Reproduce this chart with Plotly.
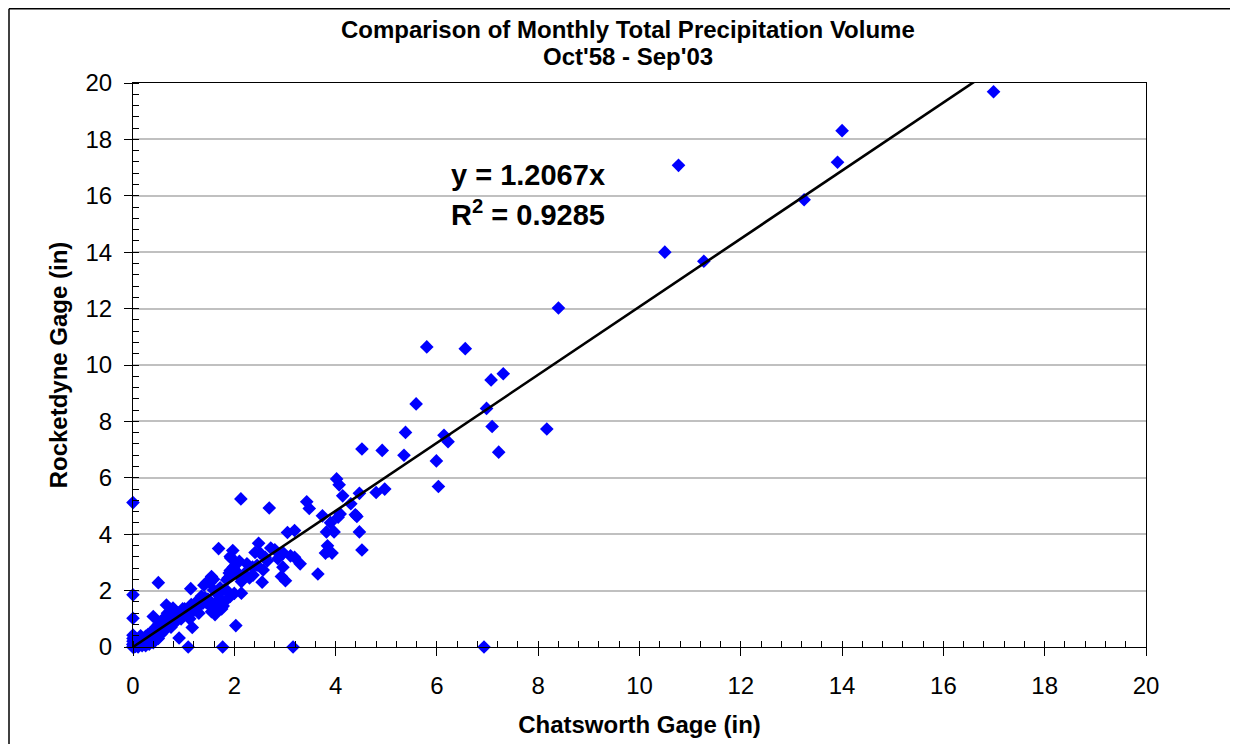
import plotly.graph_objects as go

# Monthly totals (in): Chatsworth gage (x) vs Rocketdyne gage (y)
chatsworth = [
    16.99, 14.0, 13.91, 10.77, 13.25, 10.50, 11.27, 8.40, 5.80, 6.56,
    7.31, 7.07, 5.59, 6.98, 7.09, 8.17, 5.38, 6.14, 6.22, 4.52,
    4.92, 5.35, 7.22, 5.99, 4.02, 4.07, 6.03, 4.47, 4.80, 4.97,
    4.14, 3.43, 3.48, 4.30, 3.74, 4.09, 4.05, 4.39, 4.42, 3.90,
    3.82, 3.97, 4.47, 3.84, 3.80, 3.93, 4.52, 2.13, 2.69, 6.93,
    3.16, 1.77, 1.09, 0.0, 0.0, 0.0, 0.50, 2.03, 0.91, 1.17,
    1.14, 3.65, 3.05, 3.19, 1.69, 2.48, 1.97, 2.41, 2.72, 2.51,
    3.85, 2.97, 3.11, 3.19, 1.92, 2.10, 2.86, 2.61, 2.96, 2.57,
    2.36, 1.98, 1.92, 2.05, 2.37, 2.93, 1.88, 3.01, 2.17, 1.59,
    1.52, 1.40, 1.82, 2.14, 1.92, 1.45, 1.93, 1.99, 1.90, 2.06,
    1.85, 2.14, 1.55, 1.45, 1.59, 1.55, 1.60, 1.70, 1.80, 1.85,
    1.75, 2.00, 1.65, 1.50, 1.48, 1.38, 1.35, 1.30, 1.30, 1.25,
    1.20, 1.15, 1.12, 1.10, 1.05, 1.00, 0.98, 0.95, 0.90, 0.88,
    0.85, 0.82, 0.80, 0.78, 0.75, 0.72, 0.70, 0.68, 0.65, 0.62,
    0.60, 0.58, 0.55, 0.55, 0.52, 0.50, 0.48, 0.45, 0.42, 0.40,
    0.38, 0.35, 0.32, 0.30, 0.28, 0.25, 0.22, 0.20, 0.18, 0.15,
    0.12, 0.10, 0.08, 0.05, 0.03, 0.0, 0.0, 0.0, 0.0, 0.0,
    0.02, 0.05, 0.10, 0.15, 0.25, 0.35, 0.40, 0.50, 0.60, 0.65,
    0.40, 0.79, 0.66, 1.62, 1.68, 1.72, 1.78, 1.42, 1.36, 1.28,
    1.22, 1.08, 1.02, 0.93, 0.86, 0.76, 0.70, 0.63, 0.57, 0.47,
    0.44, 0.36, 0.27, 0.18, 0.12, 0.07, 0.04, 0.0, 0.0, 0.2,
    2.25, 2.30, 2.45, 2.65, 2.80, 3.30, 2.55, 2.20,
]
rocketdyne = [
    19.69, 18.31, 17.19, 17.08, 15.86, 14.0, 13.68, 12.02, 10.64, 10.58,
    9.69, 9.47, 8.62, 8.46, 7.82, 7.73, 7.61, 7.51, 7.28, 7.02,
    6.97, 6.80, 6.91, 6.60, 5.96, 5.75, 5.69, 5.45, 5.48, 5.60,
    5.36, 5.15, 4.91, 5.08, 4.65, 4.72, 4.60, 4.69, 4.63, 4.41,
    4.08, 4.08, 4.08, 3.59, 3.33, 3.33, 3.44, 5.25, 4.93, 0.0,
    0.0, 0.0, 0.0, 5.12, 1.85, 1.02, 2.28, 0.76, 0.32, 0.69,
    2.07, 2.59, 4.06, 4.13, 3.49, 3.68, 3.42, 3.35, 3.51, 3.33,
    3.40, 3.33, 3.23, 3.18, 3.21, 3.04, 3.13, 3.18, 2.83, 2.73,
    2.83, 2.83, 2.71, 2.66, 2.55, 2.50, 2.45, 2.35, 2.40, 2.40,
    2.28, 2.19, 2.05, 1.91, 1.79, 1.57, 3.16, 2.76, 2.62, 2.57,
    2.38, 2.32, 2.50, 2.28, 2.02, 1.25, 1.50, 1.70, 1.60, 2.00,
    1.35, 1.90, 1.95, 1.50, 1.70, 1.55, 1.80, 1.45, 1.20, 1.60,
    1.30, 1.50, 1.00, 1.40, 1.25, 1.10, 1.35, 1.00, 1.20, 1.05,
    1.15, 0.85, 1.00, 1.30, 0.70, 1.10, 0.90, 1.20, 0.65, 0.80,
    1.00, 0.70, 0.90, 0.45, 0.60, 0.80, 0.50, 0.70, 0.42, 0.60,
    0.35, 0.50, 0.10, 0.45, 0.25, 0.38, 0.18, 0.30, 0.05, 0.22,
    0.10, 0.05, 0.20, 0.15, 0.35, 0.0, 0.10, 0.20, 0.30, 0.42,
    0.0, 0.03, 0.0, 0.40, 0.05, 0.20, 0.15, 0.30, 0.55, 0.65,
    1.08, 1.38, 1.49, 1.15, 1.85, 2.10, 1.45, 1.75, 1.65, 1.55,
    1.40, 1.25, 1.35, 1.10, 0.95, 0.95, 0.75, 0.80, 0.75, 0.55,
    0.50, 0.40, 0.30, 0.25, 0.15, 0.08, 0.02, 0.08, 0.0, 0.12,
    2.95, 2.45, 2.90, 3.05, 3.45, 2.95, 2.30, 2.60,
]

slope = 1.2067
r_squared = 0.9285

x_ticks = [0, 2, 4, 6, 8, 10, 12, 14, 16, 18, 20]
y_ticks = [0, 2, 4, 6, 8, 10, 12, 14, 16, 18, 20]

FONT = "Arial, 'Liberation Sans', sans-serif"

# page is offset by the 8px body margin; target plot box in page pixels
OFF = 8
WIN_W, WIN_H = 1238, 744
W, H = WIN_W - OFF, WIN_H - OFF
PL, PT, PR, PB = 133, 83, 1146, 647
ml, mt = PL - OFF, PT - OFF
mr, mb = W + OFF - PR, H + OFF - PB
pw, ph = PR - PL, PB - PT


def px(xp):
    return (xp - PL) / pw


def py(yp):
    return (PB - yp) / ph


fig = go.Figure()

fig.add_trace(go.Scatter(
    x=chatsworth, y=rocketdyne, mode="markers",
    marker=dict(symbol="diamond", size=10.5, color="#0000FF", line=dict(width=0)),
    showlegend=False, cliponaxis=False,
))

line_x = [0, max(chatsworth)]
line_y = [slope * v for v in line_x]
fig.add_trace(go.Scatter(
    x=line_x, y=line_y, mode="lines",
    line=dict(color="black", width=2.6), showlegend=False,
))

axis_common = dict(
    range=[0, 20], tickmode="array",
    showline=True, linecolor="black", linewidth=1.2, mirror=True,
    ticks="outside", ticklen=8, tickcolor="black", tickwidth=1.2,
    tickfont=dict(family=FONT, size=24, color="black"),
    zeroline=False,
    minor=dict(dtick=0.4, ticks="inside", ticklen=6, tickcolor="black", tickwidth=1, showgrid=False),
)

fig.update_xaxes(
    **axis_common, tickvals=x_ticks, showgrid=False, ticklabelstandoff=9,
    title=dict(text="<b>Chatsworth Gage (in)</b>", font=dict(family=FONT, size=24, color="black"), standoff=18),
)
fig.update_yaxes(
    **axis_common, tickvals=y_ticks, showgrid=True, gridcolor="#c0c0c0", gridwidth=1.5, ticklabelstandoff=7,
    title=dict(text="<b>Rocketdyne Gage (in)</b>", font=dict(family=FONT, size=24, color="black"), standoff=10),
)

frame = dict(color="black", width=1.5)
fig.update_layout(
    width=W, height=H,
    margin=dict(l=ml, r=mr, t=mt, b=mb, autoexpand=False),
    paper_bgcolor="white", plot_bgcolor="white",
    font=dict(family=FONT, color="black"),
    shapes=[
        dict(type="line", xref="paper", yref="paper", x0=px(9), x1=px(1260), y0=py(8.7), y1=py(8.7),
             line=frame, layer="below"),
        dict(type="line", xref="paper", yref="paper", x0=px(9), x1=px(9), y0=py(8.7), y1=py(780),
             line=frame, layer="below"),
    ],
    annotations=[
        dict(text="<b>Comparison of Monthly Total Precipitation Volume</b>", xref="paper", yref="paper",
             x=px(628), y=py(29), xanchor="center", yanchor="middle",
             showarrow=False, font=dict(family=FONT, size=24)),
        dict(text="<b>Oct'58 - Sep'03</b>", xref="paper", yref="paper",
             x=px(628), y=py(56), xanchor="center", yanchor="middle",
             showarrow=False, font=dict(family=FONT, size=24)),
        dict(text=f"<b>y = {slope}x</b>", xref="paper", yref="paper",
             x=px(449), y=py(175), xanchor="left", yanchor="middle",
             showarrow=False, font=dict(family=FONT, size=29)),
        dict(text=f"<b>R<sup>2</sup> = {r_squared}</b>", xref="paper", yref="paper",
             x=px(449), y=py(213), xanchor="left", yanchor="middle",
             showarrow=False, font=dict(family=FONT, size=29)),
    ],
)

fig.write_html(
    "out.html",
    config={"displayModeBar": False},
    post_script="document.documentElement.style.overflow='hidden';document.body.style.overflow='hidden';",
)
